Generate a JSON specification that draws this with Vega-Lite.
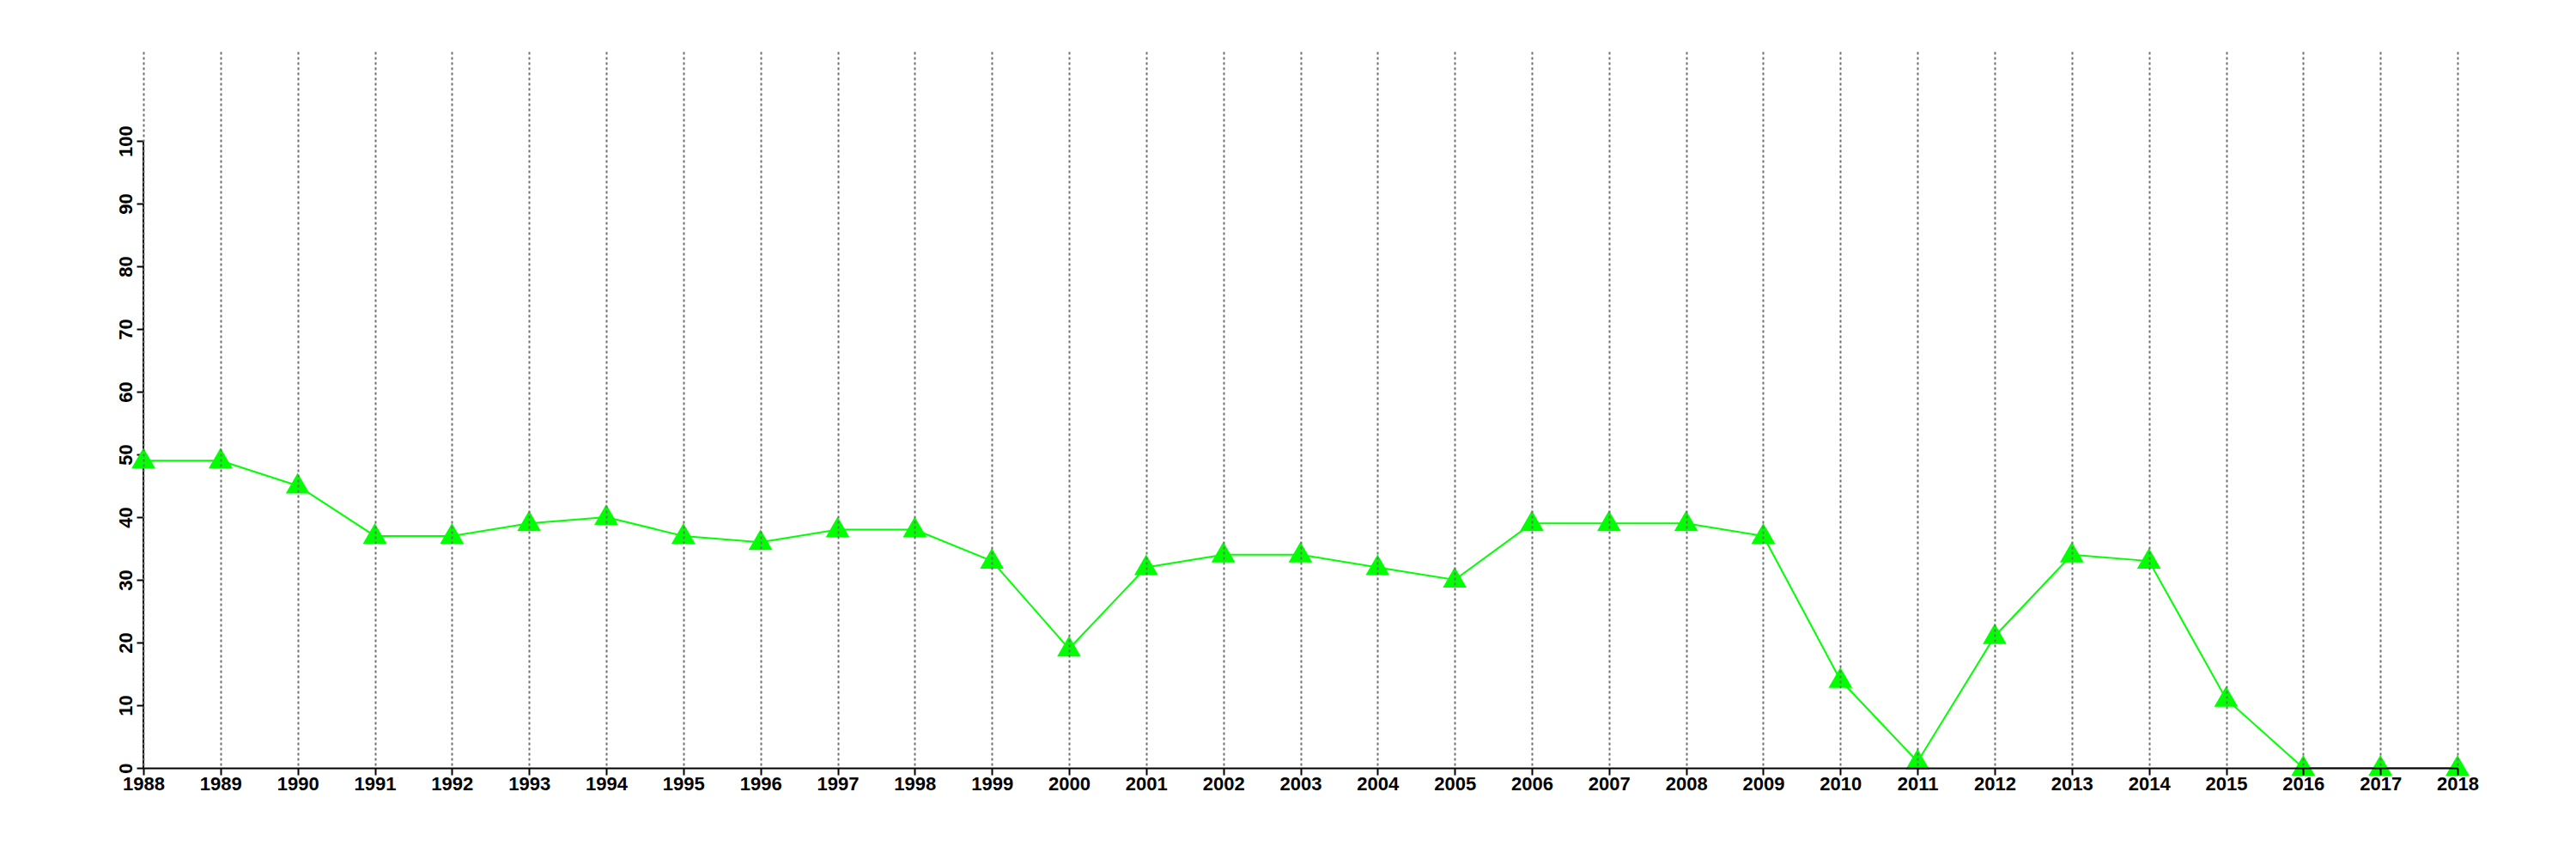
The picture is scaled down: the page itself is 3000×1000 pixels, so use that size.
{
  "$schema": "https://vega.github.io/schema/vega-lite/v6.json",
  "autosize": "none",
  "width": 2695,
  "height": 834,
  "padding": {"left": 167, "top": 60, "right": 138, "bottom": 106},
  "background": "white",
  "config": {
    "view": {"stroke": null},
    "axis": {
      "labelFont": "Liberation Sans",
      "labelFontWeight": "bold",
      "labelFontSize": 22,
      "labelColor": "black",
      "domainColor": "black",
      "domainWidth": 2,
      "tickColor": "black",
      "tickWidth": 2,
      "tickSize": 8,
      "title": null
    }
  },
  "layer": [
    {
      "data": {"values": [{"year": 1988, "lo": 0, "hi": 100}]},
      "mark": {"type": "rule", "color": "black", "strokeWidth": 2},
      "encoding": {
        "x": {"field": "year", "type": "quantitative", "scale": {"domain": [1988, 2018], "nice": false, "zero": false}},
        "y": {"field": "lo", "type": "quantitative", "scale": {"domain": [0, 114.25], "nice": false}},
        "y2": {"field": "hi"}
      }
    },
    {
      "data": {"values": [
        {"year": 1988, "value": 49}, {"year": 1989, "value": 49}, {"year": 1990, "value": 45},
        {"year": 1991, "value": 37}, {"year": 1992, "value": 37}, {"year": 1993, "value": 39},
        {"year": 1994, "value": 40}, {"year": 1995, "value": 37}, {"year": 1996, "value": 36},
        {"year": 1997, "value": 38}, {"year": 1998, "value": 38}, {"year": 1999, "value": 33},
        {"year": 2000, "value": 19}, {"year": 2001, "value": 32}, {"year": 2002, "value": 34},
        {"year": 2003, "value": 34}, {"year": 2004, "value": 32}, {"year": 2005, "value": 30},
        {"year": 2006, "value": 39}, {"year": 2007, "value": 39}, {"year": 2008, "value": 39},
        {"year": 2009, "value": 37}, {"year": 2010, "value": 14}, {"year": 2011, "value": 1},
        {"year": 2012, "value": 21}, {"year": 2013, "value": 34}, {"year": 2014, "value": 33},
        {"year": 2015, "value": 11}, {"year": 2016, "value": 0}, {"year": 2017, "value": 0},
        {"year": 2018, "value": 0}
      ]},
      "encoding": {
        "x": {
          "field": "year", "type": "quantitative",
          "scale": {"domain": [1988, 2018], "nice": false, "zero": false},
          "axis": {
            "values": [1988,1989,1990,1991,1992,1993,1994,1995,1996,1997,1998,1999,2000,2001,2002,2003,2004,2005,2006,2007,2008,2009,2010,2011,2012,2013,2014,2015,2016,2017,2018],
            "format": "d",
            "grid": true,
            "gridColor": "#707070",
            "gridDash": [3, 3],
            "gridWidth": 2,
            "labelPadding": 0,
            "labelFlush": false,
            "labelOverlap": false,
            "zindex": 1
          }
        },
        "y": {
          "field": "value", "type": "quantitative",
          "scale": {"domain": [0, 114.25], "nice": false},
          "axis": {
            "values": [0, 10, 20, 30, 40, 50, 60, 70, 80, 90, 100],
            "domain": false,
            "grid": false,
            "labelAngle": 270,
            "labelAlign": "center",
            "labelBaseline": "alphabetic",
            "labelPadding": 6,
            "labelOverlap": false,
            "labelFlush": false
          }
        }
      },
      "layer": [
        {"mark": {"type": "line", "color": "#00ff00", "strokeWidth": 2}},
        {"mark": {"type": "point", "shape": "triangle-up", "size": 767, "filled": true, "color": "#00ff00", "opacity": 1, "strokeWidth": 0, "yOffset": -3}}
      ]
    }
  ]
}
